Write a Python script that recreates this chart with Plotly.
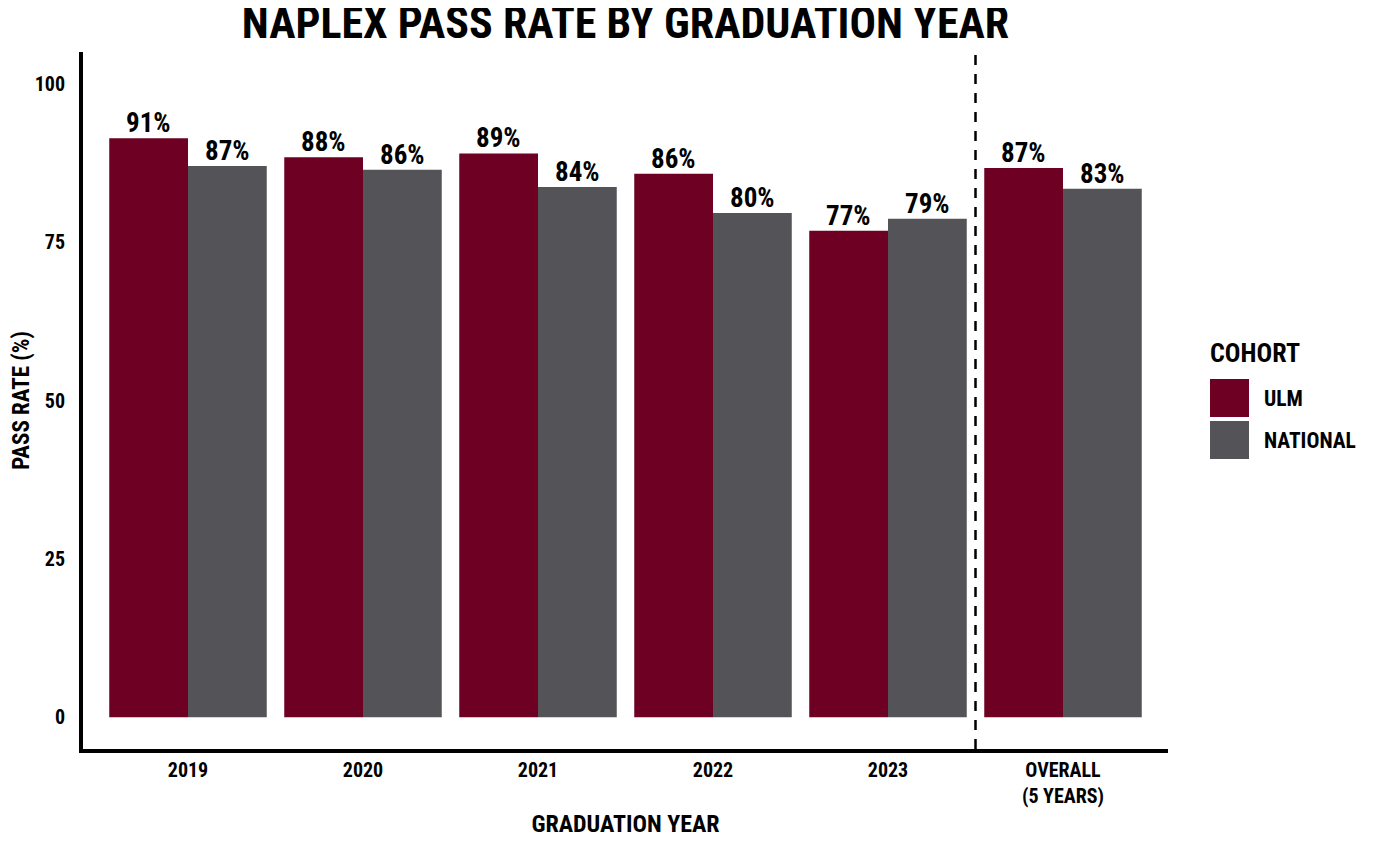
import plotly.graph_objects as go

# ---- data ----
categories = ["2019", "2020", "2021", "2022", "2023", "OVERALL<br>(5 YEARS)"]
ulm_rate = [91.4, 88.4, 89.0, 85.8, 76.8, 86.7]
national_rate = [87.0, 86.4, 83.7, 79.6, 78.7, 83.4]
series_names = ["ULM", "NATIONAL"]
y_ticks = [0, 25, 50, 75, 100]

ULM_COLOR = "#6D0023"
NAT_COLOR = "#535358"
FONT = "Roboto Condensed, Liberation Sans Narrow, Roboto, sans-serif"

O = 8  # page body margin
W, H = 1382 - 2 * O, 846 - 2 * O
L, R, T, B = 83 - O, 1382 - O - 1168, 52 - O, 846 - O - 749
PW, PH = W - L - R, H - T - B
BARGAP = 0.1


def px_x(p):
    return (p - O - L) / PW


def px_y(p):
    return (H - B - (p - O)) / PH


def f(size):
    return dict(family=FONT, size=size, color="black", weight="bold")


fig = go.Figure()
series = [(series_names[0], ulm_rate, ULM_COLOR), (series_names[1], national_rate, NAT_COLOR)]
n = len(series)
bw = (1 - BARGAP) / n
for k, (name, vals, col) in enumerate(series):
    fig.add_trace(go.Bar(
        x=categories, y=vals, name=name, marker_color=col,
        marker_line_width=0,
    ))
    off = -(1 - BARGAP) / 2 + bw * (k + 0.5)
    for i, v in enumerate(vals):
        fig.add_annotation(x=i + off, y=v, xref="x", yref="y",
                           text=f"{v:.0f}%", showarrow=False,
                           xanchor="center", yanchor="bottom", yshift=-3,
                           font=f(27))

fig.update_layout(
    width=W, height=H,
    margin=dict(l=L, r=R, t=T, b=B, autoexpand=False),
    plot_bgcolor="white", paper_bgcolor="white",
    barmode="group", bargap=BARGAP, bargroupgap=0,
    showlegend=False,
    font=dict(family=FONT, color="black"),
    title=dict(text="NAPLEX PASS RATE BY GRADUATION YEAR",
               x=(L + PW / 2) / W, xanchor="center", y=1 - (23 - O) / H, yanchor="middle",
               font=f(44)),
)

fig.update_xaxes(
    range=[-0.6, 5.6], showline=True, linecolor="black", linewidth=4,
    showgrid=False, zeroline=False, ticks="",
    tickfont=f(20),
    title=dict(text="GRADUATION YEAR", font=f(24), standoff=12),
)
fig.update_yaxes(
    range=[-5, 105], showline=True, linecolor="black", linewidth=4,
    showgrid=False, zeroline=False, ticks="", tickvals=y_ticks,
    ticklabelstandoff=10,
    tickfont=f(20),
    title=dict(text="PASS RATE (%)", font=f(23), standoff=14),
)

# dashed separator
fig.add_shape(type="line", x0=4.5, x1=4.5, xref="x", y0=0, y1=1, yref="y domain",
              line=dict(color="black", width=2.5, dash="10px,9px"))

# custom legend
fig.add_annotation(x=px_x(1208), y=px_y(353), xref="paper", yref="paper",
                   text="COHORT", showarrow=False, xanchor="left", yanchor="middle",
                   font=f(26))
for i, (name, col) in enumerate([(series_names[0], ULM_COLOR), (series_names[1], NAT_COLOR)]):
    top = 379 + i * 42
    fig.add_shape(type="rect", xref="paper", yref="paper",
                  x0=px_x(1210), x1=px_x(1249), y0=px_y(top), y1=px_y(top + 38),
                  fillcolor=col, line_width=0)
    fig.add_annotation(x=px_x(1262), y=px_y(top + 19), xref="paper", yref="paper",
                       text=name, showarrow=False, xanchor="left", yanchor="middle",
                       font=f(21.5))

fig.write_html("out.html")
